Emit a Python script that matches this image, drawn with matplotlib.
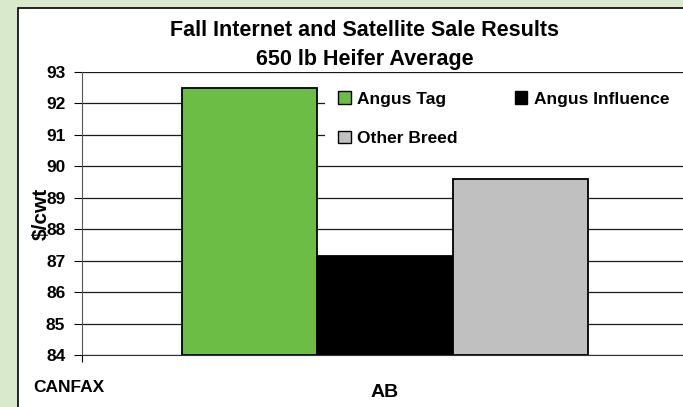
import numpy as np
import matplotlib
matplotlib.use("Agg")
import matplotlib.pyplot as plt
from matplotlib.patches import Rectangle

plt.rcParams['font.family'] = ['Liberation Sans', 'DejaVu Sans']
plt.rcParams['font.weight'] = 'bold'

# data
region = ['AB']
series = ['Angus Tag', 'Angus Influence', 'Other Breed']
values = [92.5, 87.15, 89.6]
colors = ['#6CBD45', '#000000', '#C0C0C0']
yticks = list(range(84, 94))

fig = plt.figure(figsize=(6.83, 4.07), dpi=100, facecolor='#D8EACB')

# white chart box behind the axes
box = Rectangle((18 / 683, -0.1), 1.2, 1.1 - 8 / 407,
                transform=fig.transFigure, facecolor='white',
                edgecolor='black', linewidth=1.2, zorder=-1)
fig.patches.append(box)

ax = fig.add_axes([82 / 683, 1 - 355 / 407, 606 / 683, 283 / 407])
ax.set_facecolor('white')

width = 0.223
offsets = (np.arange(len(series)) - 1) * width
bars = []
for off, val, col, name in zip(offsets, values, colors, series):
    b = ax.bar(0.5 + off, val - 84, width=width, bottom=84, color=col,
               edgecolor='black', linewidth=1.3, label=name, zorder=3)
    bars.append(b)

ax.set_xlim(0, 1)
ax.set_ylim(84, 93)
ax.set_yticks(yticks)
ax.yaxis.grid(True, color='#1a1a1a', linewidth=0.9, zorder=0)
ax.set_axisbelow(True)
ax.tick_params(axis='y', labelsize=12.5, length=6, width=0.8, pad=6)
ax.set_xticks([0.5], region)
ax.set_xticks([0, 1], minor=True)
ax.tick_params(axis='x', which='major', length=0, labelsize=14, pad=21)
ax.tick_params(axis='x', which='minor', length=5, width=0.8)

for s in ['top', 'right']:
    ax.spines[s].set_visible(False)
ax.spines['left'].set_color('#555555')
ax.spines['bottom'].set_color('#333333')

ax.set_ylabel('$/cwt', fontsize=15, fontweight='bold')
ax.yaxis.set_label_coords(-0.052, 0.5)

# white area behind the legend hides the gridlines there
ax.add_patch(Rectangle((325 / 683, 1 - 156 / 407), 0.6, 74 / 407,
                       transform=fig.transFigure, facecolor='white',
                       edgecolor='none', zorder=1))

fig.text(364 / 683, 1 - 31 / 407, 'Fall Internet and Satellite Sale Results',
         ha='center', va='center', fontsize=15.5, fontweight='bold')
fig.text(365 / 683, 1 - 59 / 407, '650 lb Heifer Average',
         ha='center', va='center', fontsize=15.5, fontweight='bold')
fig.text(33 / 683, 1 - 388 / 407, 'CANFAX', ha='left', va='center',
         fontsize=12.5, fontweight='bold')

handles = [bars[0], bars[2], bars[1]]
labels = [series[0], series[2], series[1]]
leg = ax.legend(handles, labels, ncol=2, loc='upper left',
                bbox_to_anchor=(321 / 683, 1 - 74 / 407),
                bbox_transform=fig.transFigure,
                frameon=False, fontsize=12.5,
                handlelength=0.7, handleheight=0.7, handletextpad=0.4,
                columnspacing=3.3, labelspacing=1.4, borderpad=0.5)
for h in leg.legend_handles:
    h.set_linewidth(1.0)

fig.savefig('out.png', dpi=100, facecolor=fig.get_facecolor())
